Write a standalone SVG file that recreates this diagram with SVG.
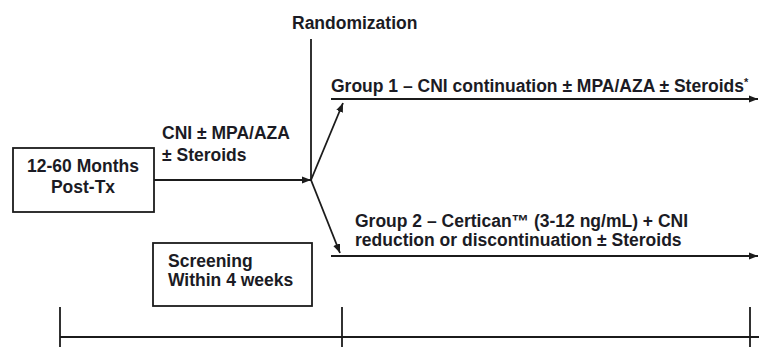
<svg xmlns="http://www.w3.org/2000/svg" width="759" height="347" viewBox="0 0 759 347">
<style>
text{font-family:"Liberation Sans",Arial,sans-serif;font-size:17.5px;font-weight:bold;fill:#1b1b24}
.ln{stroke:#1b1b1b;stroke-width:1.8;fill:none}
.box{stroke:#1b1b1b;stroke-width:1.8;fill:#fff}
</style>
<defs>
<marker id="ah" viewBox="0 0 10 10" refX="10" refY="5" markerWidth="9" markerHeight="9" markerUnits="userSpaceOnUse" orient="auto">
<path d="M0,1 L10,5 L0,9 Z" fill="#1b1b1b"/>
</marker>
</defs>
<rect width="759" height="347" fill="#fff"/>
<g id="connectors">
<line class="ln" x1="154" y1="180" x2="311" y2="180" marker-end="url(#ah)"/>
<line class="ln" x1="311" y1="39" x2="311" y2="180"/>
<line class="ln" x1="311" y1="180" x2="343" y2="103" marker-end="url(#ah)"/>
<line class="ln" x1="311" y1="180" x2="340" y2="253" marker-end="url(#ah)"/>
<line class="ln" x1="331" y1="99" x2="758" y2="99" marker-end="url(#ah)"/>
<line class="ln" x1="331" y1="256" x2="758" y2="256" marker-end="url(#ah)"/>
<line class="ln" x1="60" y1="337" x2="759" y2="337"/>
<line class="ln" x1="60" y1="307" x2="60" y2="347"/>
<line class="ln" x1="342" y1="307" x2="342" y2="347"/>
<line class="ln" x1="750" y1="307" x2="750" y2="347"/>
</g>
<g id="posttx">
<rect class="box" x="13" y="148" width="141" height="64"/>
<text x="83" y="172" text-anchor="middle">12-60 Months</text>
<text x="83" y="193" text-anchor="middle">Post-Tx</text>
</g>
<g id="screening">
<rect class="box" x="153" y="243" width="159" height="63"/>
<text x="168" y="267">Screening</text>
<text x="168" y="286">Within 4 weeks</text>
</g>
<g id="randomization">
<text x="292" y="29">Randomization</text>
</g>
<g id="cni">
<text x="162" y="139">CNI ± MPA/AZA</text>
<text x="162" y="161">± Steroids</text>
</g>
<g id="group1">
<text x="331" y="92">Group 1 – CNI continuation ± MPA/AZA ± Steroids<tspan font-size="11" dy="-6">*</tspan></text>
</g>
<g id="group2">
<text x="355" y="227">Group 2 – Certican™ (3-12 ng/mL) + CNI</text>
<text x="355" y="246">reduction or discontinuation ± Steroids</text>
</g>
</svg>
